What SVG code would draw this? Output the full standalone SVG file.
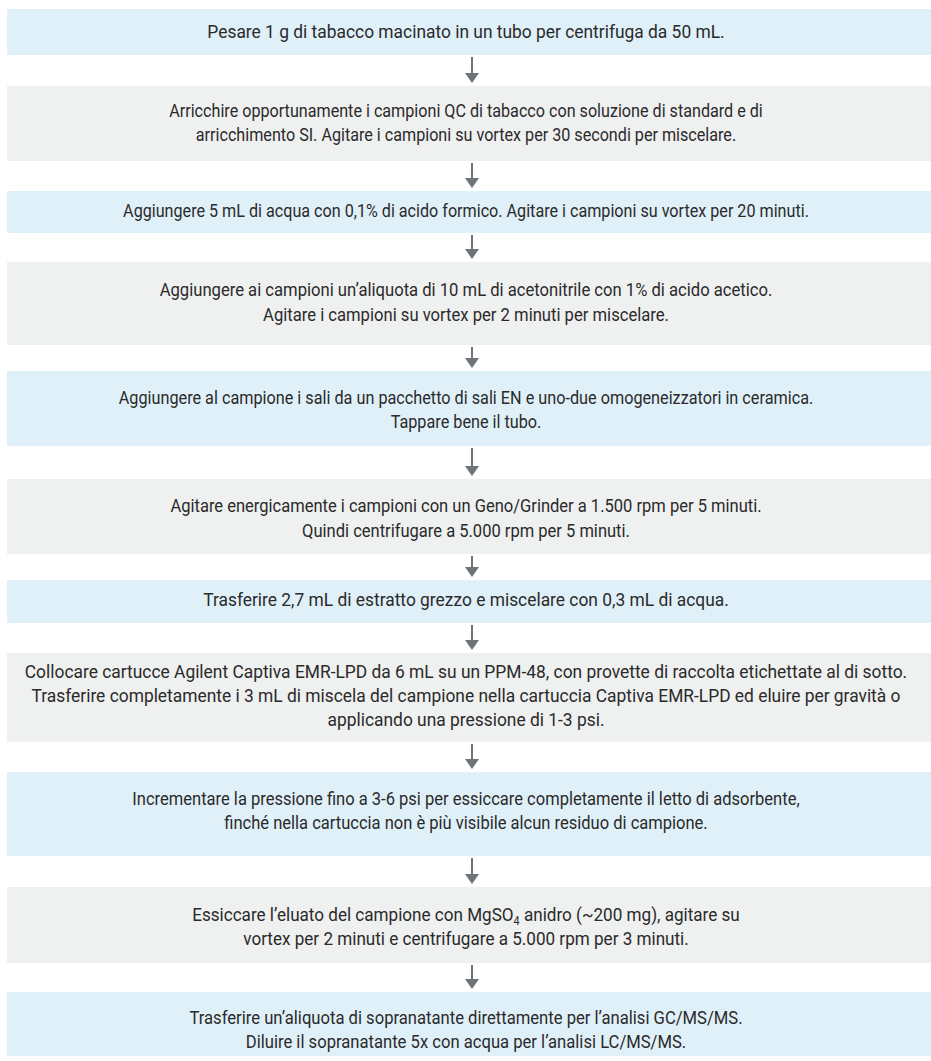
<svg xmlns="http://www.w3.org/2000/svg" width="931" height="1061" viewBox="0 0 931 1061">
<defs>
<style>
.b{fill:#e0f0f9}
.g{fill:#eff0f0}
.t{font-family:Roboto,"Liberation Sans",sans-serif;font-size:19px;fill:#2a2a2a;text-anchor:middle}
.c line{stroke:#6e7379;stroke-width:2}
.c polygon{fill:#6e7379}
</style>
</defs>
<rect width="931" height="1061" fill="#ffffff"/>
<g id="n1"><rect class="b" x="7" y="9" width="924" height="46"/>
<g transform="translate(466,0) scale(0.915,1)"><text class="t" x="0" y="38">Pesare 1 g di tabacco macinato in un tubo per centrifuga da 50 mL.</text></g></g>
<g id="n2"><rect class="g" x="7" y="86" width="924" height="75"/>
<g transform="translate(466,0) scale(0.85,1)"><text class="t" x="0" y="117">Arricchire opportunamente i campioni QC di tabacco con soluzione di standard e di</text>
<text class="t" x="0" y="141">arricchimento SI. Agitare i campioni su vortex per 30 secondi per miscelare.</text></g></g>
<g id="n3"><rect class="b" x="7" y="191" width="924" height="42"/>
<g transform="translate(466,0) scale(0.85,1)"><text class="t" x="0" y="217">Aggiungere 5 mL di acqua con 0,1% di acido formico. Agitare i campioni su vortex per 20 minuti.</text></g></g>
<g id="n4"><rect class="g" x="7" y="262" width="924" height="83"/>
<g transform="translate(466,0) scale(0.875,1)"><text class="t" x="0" y="296">Aggiungere ai campioni un’aliquota di 10 mL di acetonitrile con 1% di acido acetico.</text>
<text class="t" x="0" y="321">Agitare i campioni su vortex per 2 minuti per miscelare.</text></g></g>
<g id="n5"><rect class="b" x="7" y="371" width="924" height="75"/>
<g transform="translate(466,0) scale(0.855,1)"><text class="t" x="0" y="404">Aggiungere al campione i sali da un pacchetto di sali EN e uno-due omogeneizzatori in ceramica.</text>
<text class="t" x="0" y="428">Tappare bene il tubo.</text></g></g>
<g id="n6"><rect class="g" x="7" y="479" width="924" height="75"/>
<g transform="translate(466,0) scale(0.87,1)"><text class="t" x="0" y="512">Agitare energicamente i campioni con un Geno/Grinder a 1.500 rpm per 5 minuti.</text>
<text class="t" x="0" y="537">Quindi centrifugare a 5.000 rpm per 5 minuti.</text></g></g>
<g id="n7"><rect class="b" x="7" y="580" width="924" height="43"/>
<g transform="translate(466,0) scale(0.915,1)"><text class="t" x="0" y="606">Trasferire 2,7 mL di estratto grezzo e miscelare con 0,3 mL di acqua.</text></g></g>
<g id="n8"><rect class="g" x="7" y="653" width="924" height="89"/>
<g transform="translate(466,0) scale(0.915,1)"><text class="t" x="0" y="678">Collocare cartucce Agilent Captiva EMR-LPD da 6 mL su un PPM-48, con provette di raccolta etichettate al di sotto.</text>
<text class="t" x="0" y="702">Trasferire completamente i 3 mL di miscela del campione nella cartuccia Captiva EMR-LPD ed eluire per gravità o</text>
<text class="t" x="0" y="726">applicando una pressione di 1-3 psi.</text></g></g>
<g id="n9"><rect class="b" x="7" y="772" width="924" height="84"/>
<g transform="translate(466,0) scale(0.87,1)"><text class="t" x="0" y="805">Incrementare la pressione fino a 3-6 psi per essiccare completamente il letto di adsorbente,</text>
<text class="t" x="0" y="829">finché nella cartuccia non è più visibile alcun residuo di campione.</text></g></g>
<g id="n10"><rect class="g" x="7" y="887" width="924" height="76"/>
<g transform="translate(466,0) scale(0.9,1)"><text class="t" x="0" y="921">Essiccare l’eluato del campione con MgSO<tspan font-size="12" baseline-shift="-4">4</tspan> anidro (~200 mg), agitare su</text>
<text class="t" x="0" y="945">vortex per 2 minuti e centrifugare a 5.000 rpm per 3 minuti.</text></g></g>
<g id="n11"><rect class="b" x="7" y="992" width="924" height="64"/>
<g transform="translate(466,0) scale(0.875,1)"><text class="t" x="0" y="1024">Trasferire un’aliquota di sopranatante direttamente per l’analisi GC/MS/MS.</text>
<text class="t" x="0" y="1048">Diluire il sopranatante 5x con acqua per l’analisi LC/MS/MS.</text></g></g>
<g id="connectors" class="c">
<line x1="472" y1="57" x2="472" y2="74"/><polygon points="465,73 479,73 472,83"/>
<line x1="472" y1="163" x2="472" y2="179"/><polygon points="465,178 479,178 472,188"/>
<line x1="472" y1="235" x2="472" y2="250"/><polygon points="465,249 479,249 472,259"/>
<line x1="472" y1="347" x2="472" y2="359"/><polygon points="465,358 479,358 472,368"/>
<line x1="472" y1="448" x2="472" y2="467"/><polygon points="465,466 479,466 472,476"/>
<line x1="472" y1="556" x2="472" y2="568"/><polygon points="465,567 479,567 472,577"/>
<line x1="472" y1="625" x2="472" y2="641"/><polygon points="465,640 479,640 472,650"/>
<line x1="472" y1="744" x2="472" y2="760"/><polygon points="465,759 479,759 472,769"/>
<line x1="472" y1="858" x2="472" y2="875"/><polygon points="465,874 479,874 472,884"/>
<line x1="472" y1="965" x2="472" y2="980"/><polygon points="465,979 479,979 472,989"/>
</g>
</svg>
